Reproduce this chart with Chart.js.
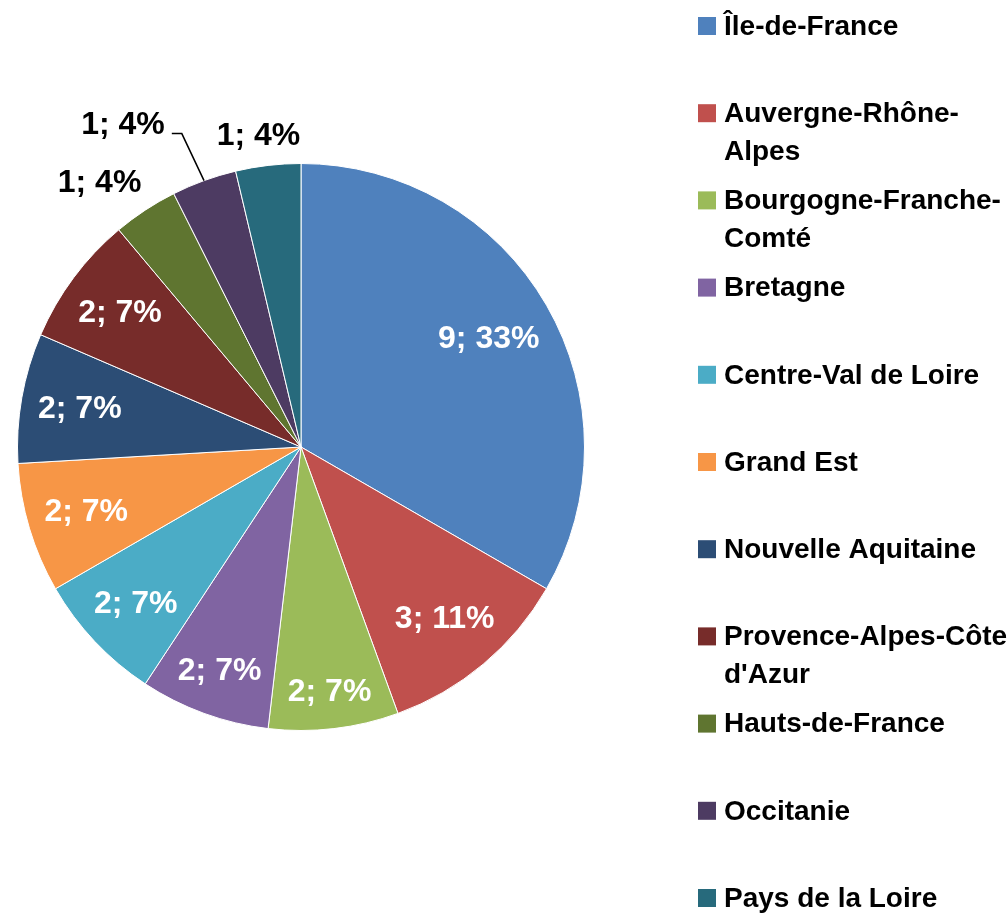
<!DOCTYPE html>
<html>
<head>
<meta charset="utf-8">
<script src="https://cdn.jsdelivr.net/npm/chart.js@4.4.0/dist/chart.umd.min.js"></script>
<style>
  html, body { margin: 0; padding: 0; background: #fff; }
</style>
</head>
<body>
<canvas id="regionsChart" width="1008" height="915"></canvas>
<script>
// Data
const regions = [
    "Île-de-France", "Auvergne-Rhône-Alpes", "Bourgogne-Franche-Comté", "Bretagne",
    "Centre-Val de Loire", "Grand Est", "Nouvelle Aquitaine", "Provence-Alpes-Côte d'Azur",
    "Hauts-de-France", "Occitanie", "Pays de la Loire"
];
const counts = [9, 3, 2, 2, 2, 2, 2, 2, 1, 1, 1];
const sliceColors = [
    "#4F81BD", "#C0504D", "#9BBB59", "#8064A2", "#4BACC6", "#F79646",
    "#2C4D75", "#772C2A", "#5F7530", "#4D3B62", "#276A7C"
];

const FONT = '"Liberation Sans", Arial, sans-serif';

// Helper: split a legend label on hyphens / spaces so it fits maxWidth
function wrapLabel(ctx, text, maxWidth) {
    const parts = text.match(/[^\s-]+-?|\s+/g) || [text];
    const lines = [];
    let line = '';
    parts.forEach(p => {
        const test = line + p;
        if (line && ctx.measureText(test.trimEnd()).width > maxWidth) {
            lines.push(line.trimEnd());
            line = p.trimStart();
        } else {
            line = test;
        }
    });
    if (line) lines.push(line.trimEnd());
    return lines;
}

// Helper: push a w x h box along (dx, dy) until its farthest corner is at `limit`
function insideDistance(dx, dy, w, h, limit) {
    let lo = 0, hi = limit;
    for (let k = 0; k < 30; k++) {
        const d = (lo + hi) / 2;
        const cx = dx * d, cy = dy * d;
        const far = Math.max(Math.abs(cx) + w / 2, 0) ** 2 + (Math.abs(cy) + h / 2) ** 2;
        if (Math.sqrt(far) > limit) hi = d; else lo = d;
    }
    return lo;
}

const clamp = v => Math.max(-1, Math.min(1, v));

// Data labels "n; p%" - inside for big slices, outside for small ones
const sliceLabels = {
    id: 'sliceLabels',
    afterDatasetsDraw(chart) {
        const ctx = chart.ctx;
        const meta = chart.getDatasetMeta(0);
        const total = counts.reduce((a, b) => a + b, 0);
        ctx.save();
        ctx.font = 'bold 32px ' + FONT;
        ctx.textAlign = 'center';
        ctx.textBaseline = 'middle';

        const outside = [];
        meta.data.forEach((arc, i) => {
            const pct = Math.round(counts[i] / total * 100);
            const text = counts[i] + '; ' + pct + '%';
            const mid = (arc.startAngle + arc.endAngle) / 2;
            const dx = Math.cos(mid), dy = Math.sin(mid);
            const r = arc.outerRadius;
            const w = ctx.measureText(text).width, h = 30;
            if (counts[i] / total >= 0.05) {
                const d = insideDistance(dx, dy, w, h, r - 15);
                ctx.fillStyle = '#fff';
                ctx.fillText(text, arc.x + dx * d, arc.y + dy * d + 1);
            } else {
                const ex = arc.x + dx * r, ey = arc.y + dy * r;
                const px = ex + dx * 12, py = ey + dy * 12;
                outside.push({
                    text, w, h, ex, ey, dx, dy,
                    cx: px + (w / 2) * clamp(dx * 1.7),
                    cy: py + (h / 2 + 2) * clamp(dy * 1.7)
                });
            }
        });

        // Place from the last slice backwards; move clashing labels out with a leader
        const placed = [];
        const hit = (a, b) => Math.abs(a.cx - b.cx) < (a.w + b.w) / 2 && Math.abs(a.cy - b.cy) < (a.h + b.h) / 2;
        outside.reverse().forEach(lb => {
            if (placed.some(p => hit(p, lb))) {
                const bx = lb.ex + lb.dx * 65, by = lb.ey + lb.dy * 50;
                const side = lb.dx < 0 ? -1 : 1;
                lb.cx = bx + side * (10 + 7 + lb.w / 2);
                lb.cy = by - 8;
                ctx.strokeStyle = '#000';
                ctx.lineWidth = 1.5;
                ctx.beginPath();
                ctx.moveTo(lb.ex, lb.ey);
                ctx.lineTo(bx, by);
                ctx.lineTo(bx + side * 10, by);
                ctx.stroke();
            }
            placed.push(lb);
            ctx.fillStyle = '#000';
            ctx.fillText(lb.text, lb.cx, lb.cy);
        });
        ctx.restore();
    }
};

// Legend on the right, with wrapped names
const sideLegend = {
    id: 'sideLegend',
    afterDraw(chart) {
        const ctx = chart.ctx;
        const legendTop = 26, legendStep = 87.2, boxX = 698, textX = 724, lineH = 38;
        ctx.save();
        ctx.font = 'bold 28px ' + FONT;
        ctx.textBaseline = 'middle';
        ctx.textAlign = 'left';
        regions.forEach((name, i) => {
            const y = legendTop + i * legendStep;
            ctx.fillStyle = sliceColors[i];
            ctx.fillRect(boxX, y - 9, 18, 18);
            ctx.fillStyle = '#000';
            wrapLabel(ctx, name, 1008 - textX).forEach((ln, k) => {
                ctx.fillText(ln, textX, y + 1 + k * lineH);
            });
        });
        ctx.restore();
    }
};

new Chart(document.getElementById('regionsChart').getContext('2d'), {
    type: 'pie',
    data: {
        labels: regions,
        datasets: [{
            data: counts,
            backgroundColor: sliceColors,
            borderColor: '#ffffff',
            borderWidth: 1
        }]
    },
    options: {
        responsive: false,
        animation: false,
        devicePixelRatio: 1,
        layout: { padding: { left: 17, right: 423, top: 163, bottom: 184 } },
        plugins: {
            legend: { display: false },
            tooltip: { enabled: false }
        }
    },
    plugins: [sliceLabels, sideLegend]
});
</script>
</body>
</html>
